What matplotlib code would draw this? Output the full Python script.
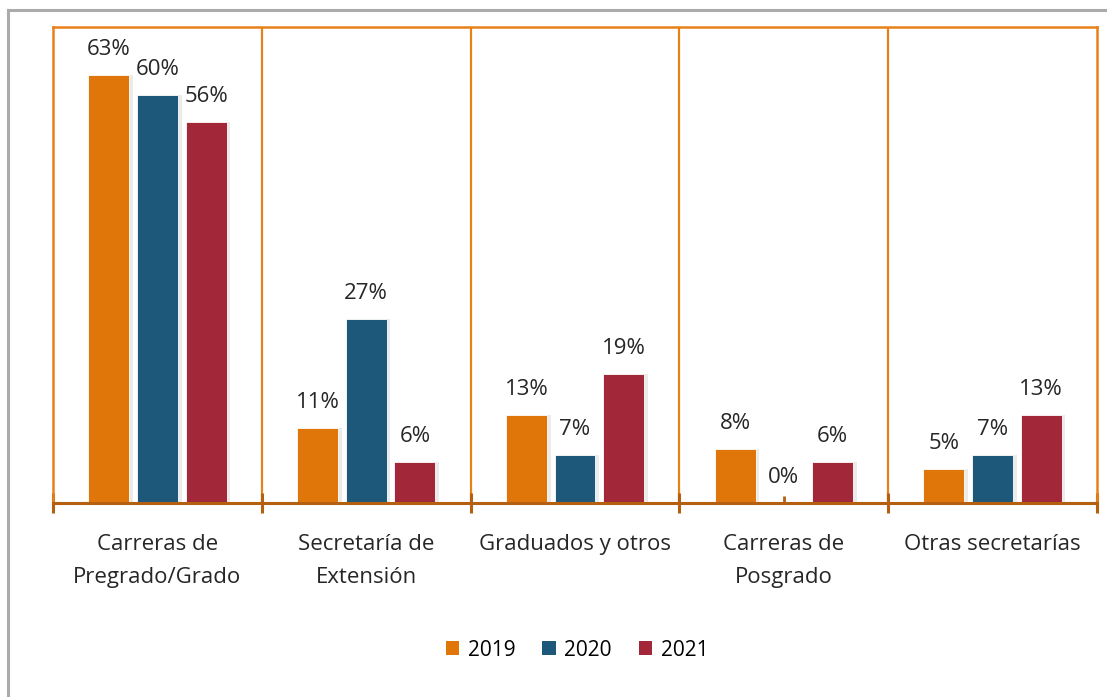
import numpy as np
import matplotlib.pyplot as plt
from matplotlib.lines import Line2D
from matplotlib.patches import Patch

categories = ["Carreras de\nPregrado/Grado", "Secretaría de\nExtensión",
              "Graduados y otros", "Carreras de\nPosgrado", "Otras secretarías"]
years = ["2019", "2020", "2021"]
share_2019 = [63, 11, 13, 8, 5]
share_2020 = [60, 27, 7, 0, 7]
share_2021 = [56, 6, 19, 6, 13]

colors = ["#E0760A", "#1D577A", "#A12739"]
edge_orange = "#E8801A"
axis_brown = "#B5600F"

plt.rcParams['font.family'] = ['Open Sans', 'DejaVu Sans']
FS = 16

fig = plt.figure(figsize=(11.07, 6.97), dpi=100)
ax = fig.add_axes([53 / 1107, 1 - 503 / 697, (1097 - 53) / 1107, (503 - 27) / 697])

x = np.arange(len(categories))
width = 0.196
step = 0.233
series = [share_2019, share_2020, share_2021]

for i, (vals, col) in enumerate(zip(series, colors)):
    pos = x + (i - 1) * step
    # soft shadow to the right of each bar
    ax.bar(pos + 0.018, vals, width, color="#000000", alpha=0.08, zorder=2, linewidth=0)
    ax.bar(pos, vals, width, color=col, zorder=3, linewidth=0.6, edgecolor="white")
    for p, v in zip(pos, vals):
        ax.text(p, v + 2.2, f"{v}%", ha="center", va="bottom", fontsize=FS, color="#262626")

ax.set_xlim(-0.5, len(categories) - 0.5)
ax.set_ylim(0, 70)
ax.set_yticks([])

# separators between categories
for b in np.arange(0.5, len(categories) - 0.5):
    ax.axvline(b, color=edge_orange, lw=1.6, zorder=1)

for side in ("top", "left", "right"):
    ax.spines[side].set_color(edge_orange)
    ax.spines[side].set_linewidth(1.8)
ax.spines["bottom"].set_color(axis_brown)
ax.spines["bottom"].set_linewidth(2.2)
ax.spines["bottom"].set_zorder(4)

ax.set_xticks(np.arange(-0.5, len(categories)), minor=False)
ax.set_xticklabels([])
ax.tick_params(axis="x", which="major", direction="inout", length=14, width=2.2, color=axis_brown)
ax.set_xticks(x, minor=True)
ax.set_xticklabels(categories, minor=True, fontsize=FS, color="#262626", linespacing=1.75)
ax.tick_params(axis="x", which="minor", direction="in", length=5, width=2, color=axis_brown, pad=22)
for lbl in ax.get_xticklabels(minor=True):
    lbl.set_verticalalignment("top")

handles = [Patch(facecolor=c, label=y) for c, y in zip(colors, years)]
fig.legend(handles=handles, loc="center", bbox_to_anchor=(577 / 1107, 1 - 650 / 697), ncol=3,
           frameon=False, fontsize=15, handlelength=0.65, handleheight=0.65,
           handletextpad=0.4, columnspacing=1.3)

# grey frame around the chart area
fig.add_artist(Line2D([8 / 1107, 8 / 1107], [0, 1 - 10 / 697], color="#ABABAB", lw=2.2,
                      transform=fig.transFigure))
fig.add_artist(Line2D([8 / 1107, 1], [1 - 10 / 697, 1 - 10 / 697], color="#ABABAB", lw=2.2,
                      transform=fig.transFigure))

fig.savefig("out.png", dpi=100, facecolor="white")
